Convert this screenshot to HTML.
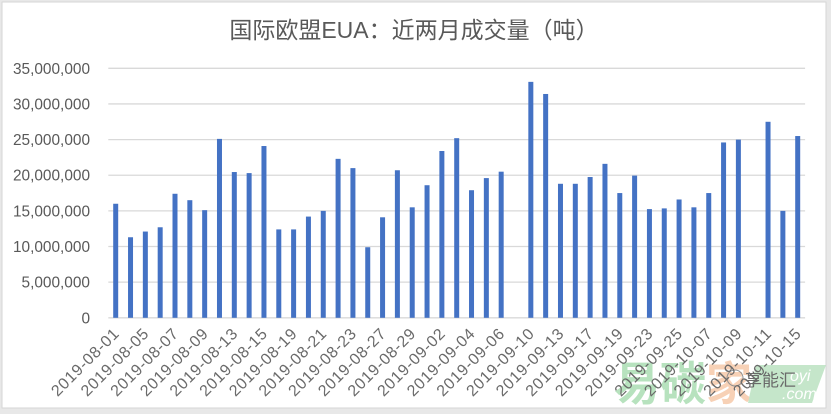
<!DOCTYPE html>
<html><head><meta charset="utf-8">
<style>
html,body{margin:0;padding:0;background:#e8e8e8;}
svg{display:block;}
</style></head>
<body>
<svg width="831" height="414" viewBox="0 0 831 414" xmlns="http://www.w3.org/2000/svg">
<rect x="0" y="0" width="831" height="414" fill="#e8e8e8"/>
<rect x="2" y="2" width="824" height="406" fill="#ffffff" stroke="#d6d6d6" stroke-width="1"/>
<text x="414" y="38" text-anchor="middle" font-family="Liberation Sans, Noto Sans CJK SC, sans-serif" font-size="23" fill="#595959">国际欧盟EUA：近两月成交量（吨）</text>
<g stroke="#d9d9d9" stroke-width="1.3">
<line x1="108.3" y1="68.32" x2="805.1" y2="68.32"/>
<line x1="108.3" y1="103.96" x2="805.1" y2="103.96"/>
<line x1="108.3" y1="139.6" x2="805.1" y2="139.6"/>
<line x1="108.3" y1="175.24" x2="805.1" y2="175.24"/>
<line x1="108.3" y1="210.88" x2="805.1" y2="210.88"/>
<line x1="108.3" y1="246.52" x2="805.1" y2="246.52"/>
<line x1="108.3" y1="282.16" x2="805.1" y2="282.16"/>
<line x1="108.3" y1="317.8" x2="805.1" y2="317.8"/>
</g>
<g font-family="Liberation Sans, sans-serif" font-size="15.4" fill="#595959" text-anchor="end">
<text x="90" y="73.8">35,000,000</text>
<text x="90" y="109.5">30,000,000</text>
<text x="90" y="145.1">25,000,000</text>
<text x="90" y="180.7">20,000,000</text>
<text x="90" y="216.4">15,000,000</text>
<text x="90" y="252">10,000,000</text>
<text x="90" y="287.7">5,000,000</text>
<text x="90" y="323.3">0</text>
</g>
<g fill="#4472c4">
<rect x="113.2" y="203.75" width="5" height="114.05"/>
<rect x="128.03" y="237.25" width="5" height="80.55"/>
<rect x="142.85" y="231.55" width="5" height="86.25"/>
<rect x="157.68" y="227.27" width="5" height="90.53"/>
<rect x="172.5" y="193.77" width="5" height="124.03"/>
<rect x="187.33" y="200.19" width="5" height="117.61"/>
<rect x="202.16" y="210.17" width="5" height="107.63"/>
<rect x="216.98" y="138.89" width="5" height="178.91"/>
<rect x="231.81" y="172.03" width="5" height="145.77"/>
<rect x="246.63" y="173.1" width="5" height="144.7"/>
<rect x="261.46" y="146.02" width="5" height="171.78"/>
<rect x="276.29" y="229.41" width="5" height="88.39"/>
<rect x="291.11" y="229.41" width="5" height="88.39"/>
<rect x="305.94" y="216.58" width="5" height="101.22"/>
<rect x="320.76" y="210.88" width="5" height="106.92"/>
<rect x="335.59" y="158.85" width="5" height="158.95"/>
<rect x="350.42" y="168.11" width="5" height="149.69"/>
<rect x="365.24" y="247.23" width="5" height="70.57"/>
<rect x="380.07" y="217.3" width="5" height="100.5"/>
<rect x="394.89" y="170.25" width="5" height="147.55"/>
<rect x="409.72" y="207.32" width="5" height="110.48"/>
<rect x="424.55" y="185.22" width="5" height="132.58"/>
<rect x="439.37" y="151" width="5" height="166.8"/>
<rect x="454.2" y="138.17" width="5" height="179.63"/>
<rect x="469.02" y="190.21" width="5" height="127.59"/>
<rect x="483.85" y="178.09" width="5" height="139.71"/>
<rect x="498.68" y="171.68" width="5" height="146.12"/>
<rect x="528.33" y="81.86" width="5" height="235.94"/>
<rect x="543.15" y="93.98" width="5" height="223.82"/>
<rect x="557.98" y="183.79" width="5" height="134.01"/>
<rect x="572.81" y="183.79" width="5" height="134.01"/>
<rect x="587.63" y="177.02" width="5" height="140.78"/>
<rect x="602.46" y="163.84" width="5" height="153.96"/>
<rect x="617.28" y="193.06" width="5" height="124.74"/>
<rect x="632.11" y="175.6" width="5" height="142.2"/>
<rect x="646.94" y="209.1" width="5" height="108.7"/>
<rect x="661.76" y="208.39" width="5" height="109.41"/>
<rect x="676.59" y="199.48" width="5" height="118.32"/>
<rect x="691.41" y="207.32" width="5" height="110.48"/>
<rect x="706.24" y="193.06" width="5" height="124.74"/>
<rect x="721.07" y="142.45" width="5" height="175.35"/>
<rect x="735.89" y="139.6" width="5" height="178.2"/>
<rect x="765.54" y="121.78" width="5" height="196.02"/>
<rect x="780.37" y="210.88" width="5" height="106.92"/>
<rect x="795.2" y="136.04" width="5" height="181.76"/>
</g>
<!-- watermark -->
<g opacity="0.8">
<text x="614" y="400" font-family="Noto Sans CJK SC, sans-serif" font-weight="bold" font-size="46" fill="#a6dbae">易碳</text>
<text x="706" y="400" font-family="Noto Sans CJK SC, sans-serif" font-weight="bold" font-size="46" fill="#f6c6a4">家</text>
<polygon points="756,365 826,365 812,403 748,403" fill="#b7e1bd"/>
<text x="790" y="381" font-family="Liberation Sans, sans-serif" font-style="italic" font-size="16" fill="#ffffff">oyi</text>
<text x="782" y="399" font-family="Liberation Sans, sans-serif" font-style="italic" font-size="16" fill="#ffffff">.com</text>
<circle cx="735" cy="378" r="8" fill="none" stroke="#777" stroke-width="1"/>
<text x="745" y="386" font-family="Noto Sans CJK SC, sans-serif" font-size="17" fill="#444">享能汇</text>
</g>
<g font-family="Liberation Sans, sans-serif" font-size="16" fill="#6a6a6a" text-anchor="end">
<text transform="translate(119.8,335) rotate(-45)" textLength="88" lengthAdjust="spacing">2019-08-01</text>
<text transform="translate(149.45,335) rotate(-45)" textLength="88" lengthAdjust="spacing">2019-08-05</text>
<text transform="translate(179.1,335) rotate(-45)" textLength="88" lengthAdjust="spacing">2019-08-07</text>
<text transform="translate(208.76,335) rotate(-45)" textLength="88" lengthAdjust="spacing">2019-08-09</text>
<text transform="translate(238.41,335) rotate(-45)" textLength="88" lengthAdjust="spacing">2019-08-13</text>
<text transform="translate(268.06,335) rotate(-45)" textLength="88" lengthAdjust="spacing">2019-08-15</text>
<text transform="translate(297.71,335) rotate(-45)" textLength="88" lengthAdjust="spacing">2019-08-19</text>
<text transform="translate(327.36,335) rotate(-45)" textLength="88" lengthAdjust="spacing">2019-08-21</text>
<text transform="translate(357.02,335) rotate(-45)" textLength="88" lengthAdjust="spacing">2019-08-23</text>
<text transform="translate(386.67,335) rotate(-45)" textLength="88" lengthAdjust="spacing">2019-08-27</text>
<text transform="translate(416.32,335) rotate(-45)" textLength="88" lengthAdjust="spacing">2019-08-29</text>
<text transform="translate(445.97,335) rotate(-45)" textLength="88" lengthAdjust="spacing">2019-09-02</text>
<text transform="translate(475.62,335) rotate(-45)" textLength="88" lengthAdjust="spacing">2019-09-04</text>
<text transform="translate(505.28,335) rotate(-45)" textLength="88" lengthAdjust="spacing">2019-09-06</text>
<text transform="translate(534.93,335) rotate(-45)" textLength="88" lengthAdjust="spacing">2019-09-10</text>
<text transform="translate(564.58,335) rotate(-45)" textLength="88" lengthAdjust="spacing">2019-09-13</text>
<text transform="translate(594.23,335) rotate(-45)" textLength="88" lengthAdjust="spacing">2019-09-17</text>
<text transform="translate(623.88,335) rotate(-45)" textLength="88" lengthAdjust="spacing">2019-09-19</text>
<text transform="translate(653.54,335) rotate(-45)" textLength="88" lengthAdjust="spacing">2019-09-23</text>
<text transform="translate(683.19,335) rotate(-45)" textLength="88" lengthAdjust="spacing">2019-09-25</text>
<text transform="translate(712.84,335) rotate(-45)" textLength="88" lengthAdjust="spacing">2019-10-07</text>
<text transform="translate(742.49,335) rotate(-45)" textLength="88" lengthAdjust="spacing">2019-10-09</text>
<text transform="translate(772.14,335) rotate(-45)" textLength="88" lengthAdjust="spacing">2019-10-11</text>
<text transform="translate(801.8,335) rotate(-45)" textLength="88" lengthAdjust="spacing">2019-10-15</text>
</g>
</svg>
</body></html>
